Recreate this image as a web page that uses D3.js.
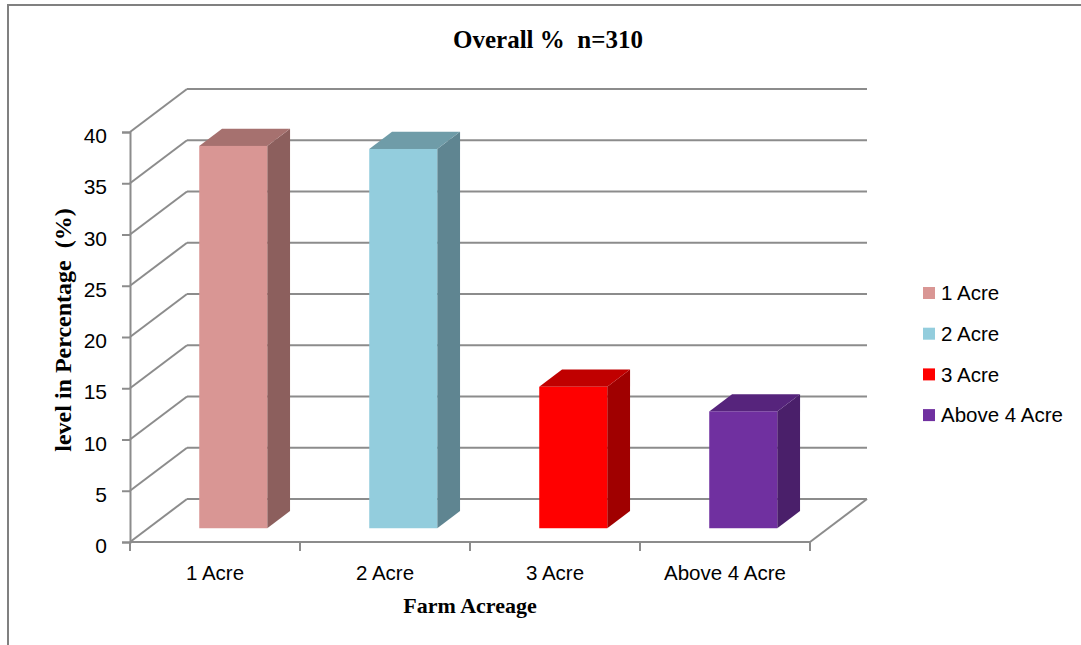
<!DOCTYPE html>
<html>
<head>
<meta charset="utf-8">
<script src="https://cdn.jsdelivr.net/npm/d3@7"></script>
<style>
  html, body { margin: 0; padding: 0; background: #fff; }
  svg { display: block; }
</style>
</head>
<body>
<svg id="chart" width="1081" height="645"></svg>
<script>
// Farm acreage share of respondents (n = 310)
const categories = ["1 Acre", "2 Acre", "3 Acre", "Above 4 Acre"];
const percentages = [37.3, 37.0, 13.8, 11.4];
const yTicks = [0, 5, 10, 15, 20, 25, 30, 35, 40];
const frontColors = ["#D99694", "#93CDDD", "#FF0000", "#7030A0"];
const topColors   = ["#A6716F", "#6F9CA8", "#C00000", "#56247C"];
const sideColors  = ["#8C5F5D", "#5F8591", "#A00000", "#4A1F6A"];

const svg = d3.select("#chart");
const W = 1081, H = 645;
const sans = "Liberation Sans, Arial, sans-serif";
const serif = "Liberation Serif, Times New Roman, serif";

// oblique depth of the 3-D box
const DX = 57, DY = -43;
const D0 = 0.32, D1 = 0.72;   // bar front / back depth fractions

const x = d3.scaleBand().domain(categories).range([130, 810]).paddingInner(0).paddingOuter(0);
const y = d3.scaleLinear().domain([0, 40]).range([542, 132]);
const gridColor = "#8C8C8C";

// outer frame (left and top edges)
svg.append("path")
  .attr("d", `M8,645 L8,5 L${W},5`)
  .attr("fill", "none").attr("stroke", "#808080").attr("stroke-width", 2);

// title
svg.append("text")
  .attr("x", 548).attr("y", 48)
  .attr("text-anchor", "middle")
  .style("white-space", "pre")
  .attr("font-family", serif)
  .attr("font-weight", "bold").attr("font-size", 25)
  .text("Overall %  n=310");

const grid = svg.append("g").attr("stroke", gridColor).attr("stroke-width", 2).attr("fill", "none");

// back wall gridlines and side wall diagonals
yTicks.forEach(t => {
  const yy = y(t);
  grid.append("line")
    .attr("x1", x.range()[0] + DX).attr("y1", yy + DY)
    .attr("x2", x.range()[1] + DX).attr("y2", yy + DY);
  grid.append("line")
    .attr("x1", x.range()[0]).attr("y1", yy)
    .attr("x2", x.range()[0] + DX).attr("y2", yy + DY);
});

// floor: front edge and right edge
grid.append("line")
  .attr("x1", x.range()[0]).attr("y1", y(0))
  .attr("x2", x.range()[1]).attr("y2", y(0));
grid.append("line")
  .attr("x1", x.range()[1]).attr("y1", y(0))
  .attr("x2", x.range()[1] + DX).attr("y2", y(0) + DY);

// y axis
const yAxis = d3.axisLeft(y).tickValues(yTicks).tickSize(8).tickPadding(15);
const gy = svg.append("g").attr("transform", `translate(${x.range()[0]},0)`).call(yAxis);
gy.select(".domain").attr("stroke", gridColor).attr("stroke-width", 2);
gy.selectAll(".tick line").attr("stroke", gridColor).attr("stroke-width", 2);
gy.selectAll(".tick text")
  .attr("font-family", sans)
  .attr("font-size", 21).attr("fill", "#000")
  .attr("dy", "0.5em");

// x axis ticks at band boundaries
const boundaries = categories.map(c => x(c)).concat([x.range()[1]]);
svg.append("g").selectAll("line").data(boundaries).join("line")
  .attr("x1", d => d).attr("x2", d => d)
  .attr("y1", y(0)).attr("y2", y(0) + 9)
  .attr("stroke", gridColor).attr("stroke-width", 2);

svg.append("g").selectAll("text").data(categories).join("text")
  .attr("x", d => x(d) + x.bandwidth() / 2)
  .attr("y", 580)
  .attr("text-anchor", "middle")
  .attr("font-family", sans)
  .attr("font-size", 20.5)
  .text(d => d);

// bars
const barW = x.bandwidth() * 0.4;
const bars = svg.append("g");
categories.forEach((c, i) => {
  const v = percentages[i];
  const cx = x(c) + x.bandwidth() / 2;
  const xl = cx - barW / 2 + D0 * DX, xr = cx + barW / 2 + D0 * DX;
  const yb = y(0) + D0 * DY, yt = y(v) + D0 * DY;
  const ddx = (D1 - D0) * DX, ddy = (D1 - D0) * DY;
  // side face
  bars.append("path")
    .attr("d", `M${xr},${yt} L${xr + ddx},${yt + ddy} L${xr + ddx},${yb + ddy} L${xr},${yb} Z`)
    .attr("fill", sideColors[i]);
  // top face
  bars.append("path")
    .attr("d", `M${xl},${yt} L${xl + ddx},${yt + ddy} L${xr + ddx},${yt + ddy} L${xr},${yt} Z`)
    .attr("fill", topColors[i]);
  // front face
  bars.append("rect")
    .attr("x", xl).attr("y", yt)
    .attr("width", barW).attr("height", yb - yt)
    .attr("fill", frontColors[i]);
});

// axis titles
svg.append("text")
  .attr("x", 470).attr("y", 613)
  .attr("text-anchor", "middle")
  .attr("font-family", serif)
  .attr("font-weight", "bold").attr("font-size", 22)
  .text("Farm Acreage");

svg.append("text")
  .attr("transform", "translate(71,330) rotate(-90)")
  .attr("text-anchor", "middle")
  .style("white-space", "pre")
  .attr("font-family", serif)
  .attr("font-weight", "bold").attr("font-size", 24)
  .text("level in Percentage  (%)");

// legend
const legend = svg.append("g").attr("transform", "translate(923,287)");
categories.forEach((c, i) => {
  const row = legend.append("g").attr("transform", `translate(0,${i * 40.7})`);
  row.append("rect").attr("width", 12).attr("height", 12).attr("fill", frontColors[i]);
  row.append("text")
    .attr("x", 18).attr("y", 6).attr("dy", "0.35em")
    .attr("font-family", sans)
    .attr("font-size", 20.5)
    .text(c);
});
</script>
</body>
</html>
